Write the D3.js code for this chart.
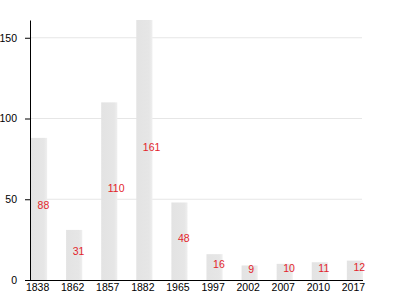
<!DOCTYPE html>
<html>
<head>
<meta charset="utf-8">
<script src="https://cdn.jsdelivr.net/npm/d3@7"></script>
<style>
    body { margin: 0; background: #fff; }
    text { font-family: "Liberation Sans", Arial, sans-serif; }
</style>
</head>
<body>
<div id="chart"></div>
<script>
const YEARS = ['1838', '1862', '1857', '1882', '1965', '1997', '2002', '2007', '2010', '2017'];
const VALUES = [88, 31, 110, 161, 48, 16, 9, 10, 11, 12];
const Y_TICKS = [0, 50, 100, 150];

let margin = {top: 20, right: 38, bottom: 20, left: 30};
let width = 400 - margin.left - margin.right;
let height = 300 - margin.top - margin.bottom;

let svg = d3.select('#chart')
    .append('svg')
    .attr('width', 400)
    .attr('height', 300)
    .append('g')
    .attr('transform', 'translate(' + margin.left + ',' + margin.top + ')');

// Bar gradient
let grad = svg.append('defs').append('linearGradient')
    .attr('id', 'barGrad')
    .attr('x1', '0%').attr('x2', '100%');
grad.append('stop').attr('offset', '0%').attr('stop-color', '#e3e3e3');
grad.append('stop').attr('offset', '80%').attr('stop-color', '#e6e6e6');
grad.append('stop').attr('offset', '100%').attr('stop-color', '#efefef');

// Scales
let x = d3.scaleBand()
    .domain(YEARS)
    .range([1, width + 1])
    .paddingInner(0.54)
    .paddingOuter(0);

let y = d3.scaleLinear()
    .domain([0, d3.max(VALUES)])
    .range([height, 0]);

// Grid lines
svg.append('g')
    .selectAll('line')
    .data(Y_TICKS.filter(function (d) { return d > 0; }))
    .enter()
    .append('line')
    .attr('x1', 0)
    .attr('x2', width)
    .attr('y1', function (d) { return y(d); })
    .attr('y2', function (d) { return y(d); })
    .attr('stroke', '#e6e6e6')
    .attr('stroke-width', 1);

// Bars
svg.append('g')
    .selectAll('rect')
    .data(VALUES)
    .enter()
    .append('rect')
    .attr('x', function (d, i) { return x(YEARS[i]); })
    .attr('y', function (d) { return y(d); })
    .attr('width', x.bandwidth())
    .attr('height', function (d) { return height - y(d); })
    .attr('fill', 'url(#barGrad)');

// Value labels
svg.append('g')
    .selectAll('text')
    .data(VALUES)
    .enter()
    .append('text')
    .attr('x', function (d, i) { return x(YEARS[i]) + x.bandwidth() / 2 - 1.5; })
    .attr('y', function (d) { return (y(d) + height) / 2 + 0.5; })
    .attr('fill', '#e3242b')
    .attr('font-size', '10.5px')
    .text(function (d) { return d; });

// X axis
let xAxis = svg.append('g')
    .attr('transform', 'translate(0,' + height + ')')
    .call(d3.axisBottom(x).tickSize(0).tickPadding(4));
xAxis.select('.domain')
    .attr('d', 'M0,0.5H' + (width + 1))
    .attr('stroke', '#000');
xAxis.selectAll('text')
    .attr('dx', '-1.5')
    .attr('font-size', '10.5px')
    .attr('fill', '#000')
    .style('font-family', '"Liberation Sans", Arial, sans-serif');

// Y axis
let yAxis = svg.append('g')
    .call(d3.axisLeft(y).tickValues(Y_TICKS).tickSize(5).tickSizeOuter(0).tickPadding(8));
yAxis.selectAll('text')
    .attr('font-size', '10.5px')
    .attr('fill', '#000')
    .style('font-family', '"Liberation Sans", Arial, sans-serif');
</script>
</body>
</html>
